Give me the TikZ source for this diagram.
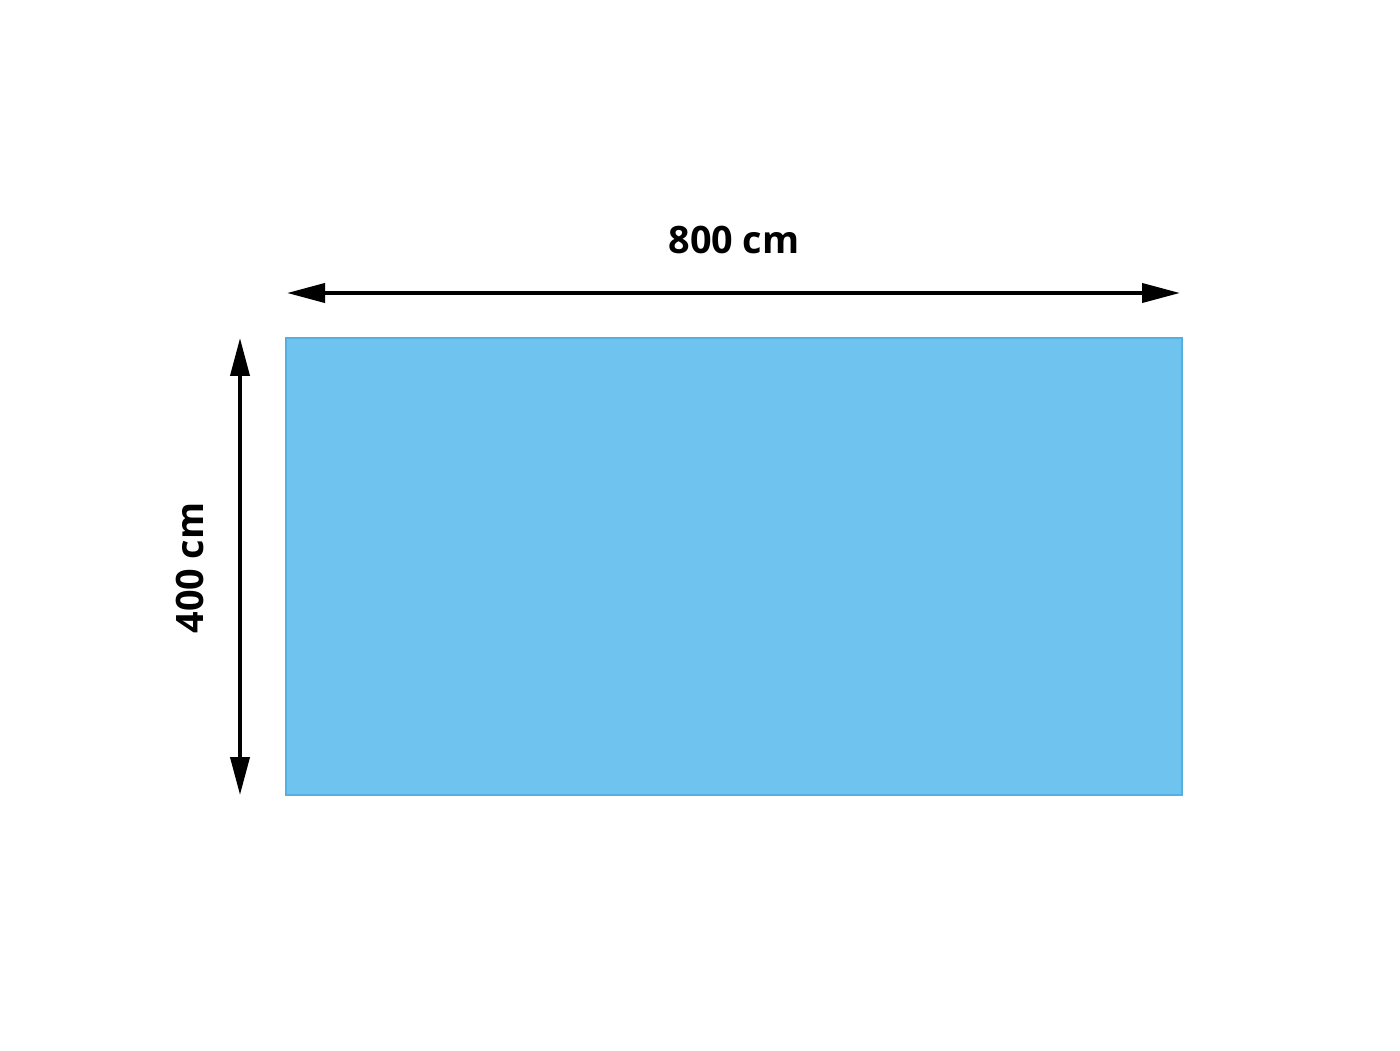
\documentclass[tikz,border=0pt]{standalone}
\usepackage{fontspec}
\setmainfont{Open Sans}
\usepackage{tikz}
\usetikzlibrary{arrows.meta}
\definecolor{pool}{RGB}{110,196,238}
\definecolor{poolborder}{RGB}{84,176,224}
\begin{document}
\begin{tikzpicture}[
	dim/.style={line width=2.2pt, {Triangle[length=0.76cm,width=0.38cm]}-{Triangle[length=0.76cm,width=0.38cm]}},
	dimlabel/.style={font=\fontsize{21.5}{24}\selectfont\bfseries, inner sep=0pt}]
			\useasboundingbox (0,0) rectangle (28,21);
			\fill[pool, draw=poolborder, line width=0.6pt] (5.72,5.1) rectangle (23.64,14.24);
			\coordinate (wl) at (5.74,15.14);
			\coordinate (wr) at (23.6,15.14);
			\coordinate (ht) at (4.8,14.24);
			\coordinate (hb) at (4.8,5.1);
			\draw[dim] (wl) -- (wr);
			\draw[dim] (ht) -- (hb);
			\node[dimlabel] (width) at (14.68,16.2) {800 cm};
			\node[dimlabel, rotate=90] (height) at (3.8,9.64) {400 cm};
		\end{tikzpicture}
\end{document}
